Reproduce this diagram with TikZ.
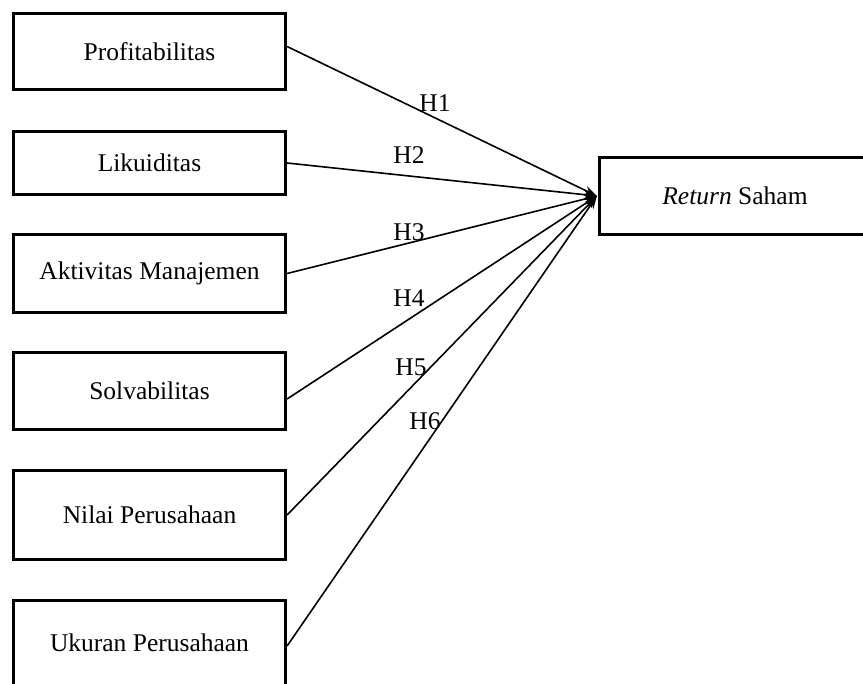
\documentclass[tikz,border=0pt]{standalone}
\usepackage{fontspec}
\setmainfont{Liberation Serif}
\usetikzlibrary{arrows.meta}
\begin{document}
\begin{tikzpicture}[x=1pt,y=-1pt,
  box/.style={draw,line width=3.2pt,inner sep=0pt,minimum width=272pt,font=\fontsize{25.5}{30}\selectfont},
  conn/.style={line width=1.6pt,-{Stealth[length=13pt,width=9pt]}},
  hlab/.style={inner sep=0pt,font=\fontsize{25.5}{30}\selectfont}]
\useasboundingbox (0,0) rectangle (863,684);
\clip (0,0) rectangle (863,684);
\node[box,minimum height=76pt] (prof) at (149.5,51.5) {Profitabilitas};
\node[box,minimum height=63pt] (liq) at (149.5,163) {Likuiditas};
\node[box,minimum height=78pt] (akt) at (149.5,273.5) {Aktivitas Manajemen};
\node[box,minimum height=77pt] (solv) at (149.5,391) {Solvabilitas};
\node[box,minimum height=89pt] (nilai) at (149.5,515) {Nilai Perusahaan};
\node[box,minimum height=85pt] (ukur) at (149.5,643) {Ukuran Perusahaan};
\node[box,minimum width=300pt,minimum height=77pt] (ret) at (749.5,196) {};
\node[hlab] (rettext) at (735,196) {\textit{Return} Saham};
\coordinate (tgt) at ([xshift=-1pt]ret.west);
\draw[conn] ([yshift=5pt]prof.east) -- (tgt);
\draw[conn] (liq.east) -- (tgt);
\draw[conn] (akt.east) -- (tgt);
\draw[conn] ([yshift=-8pt]solv.east) -- (tgt);
\draw[conn] (nilai.east) -- (tgt);
\draw[conn] ([yshift=-3pt]ukur.east) -- (tgt);
\node[hlab] (h1) at (435,103) {H1};
\node[hlab] (h2) at (409,155) {H2};
\node[hlab] (h3) at (409,232) {H3};
\node[hlab] (h4) at (409,298) {H4};
\node[hlab] (h5) at (411,367) {H5};
\node[hlab] (h6) at (425,421) {H6};
\end{tikzpicture}
\end{document}
